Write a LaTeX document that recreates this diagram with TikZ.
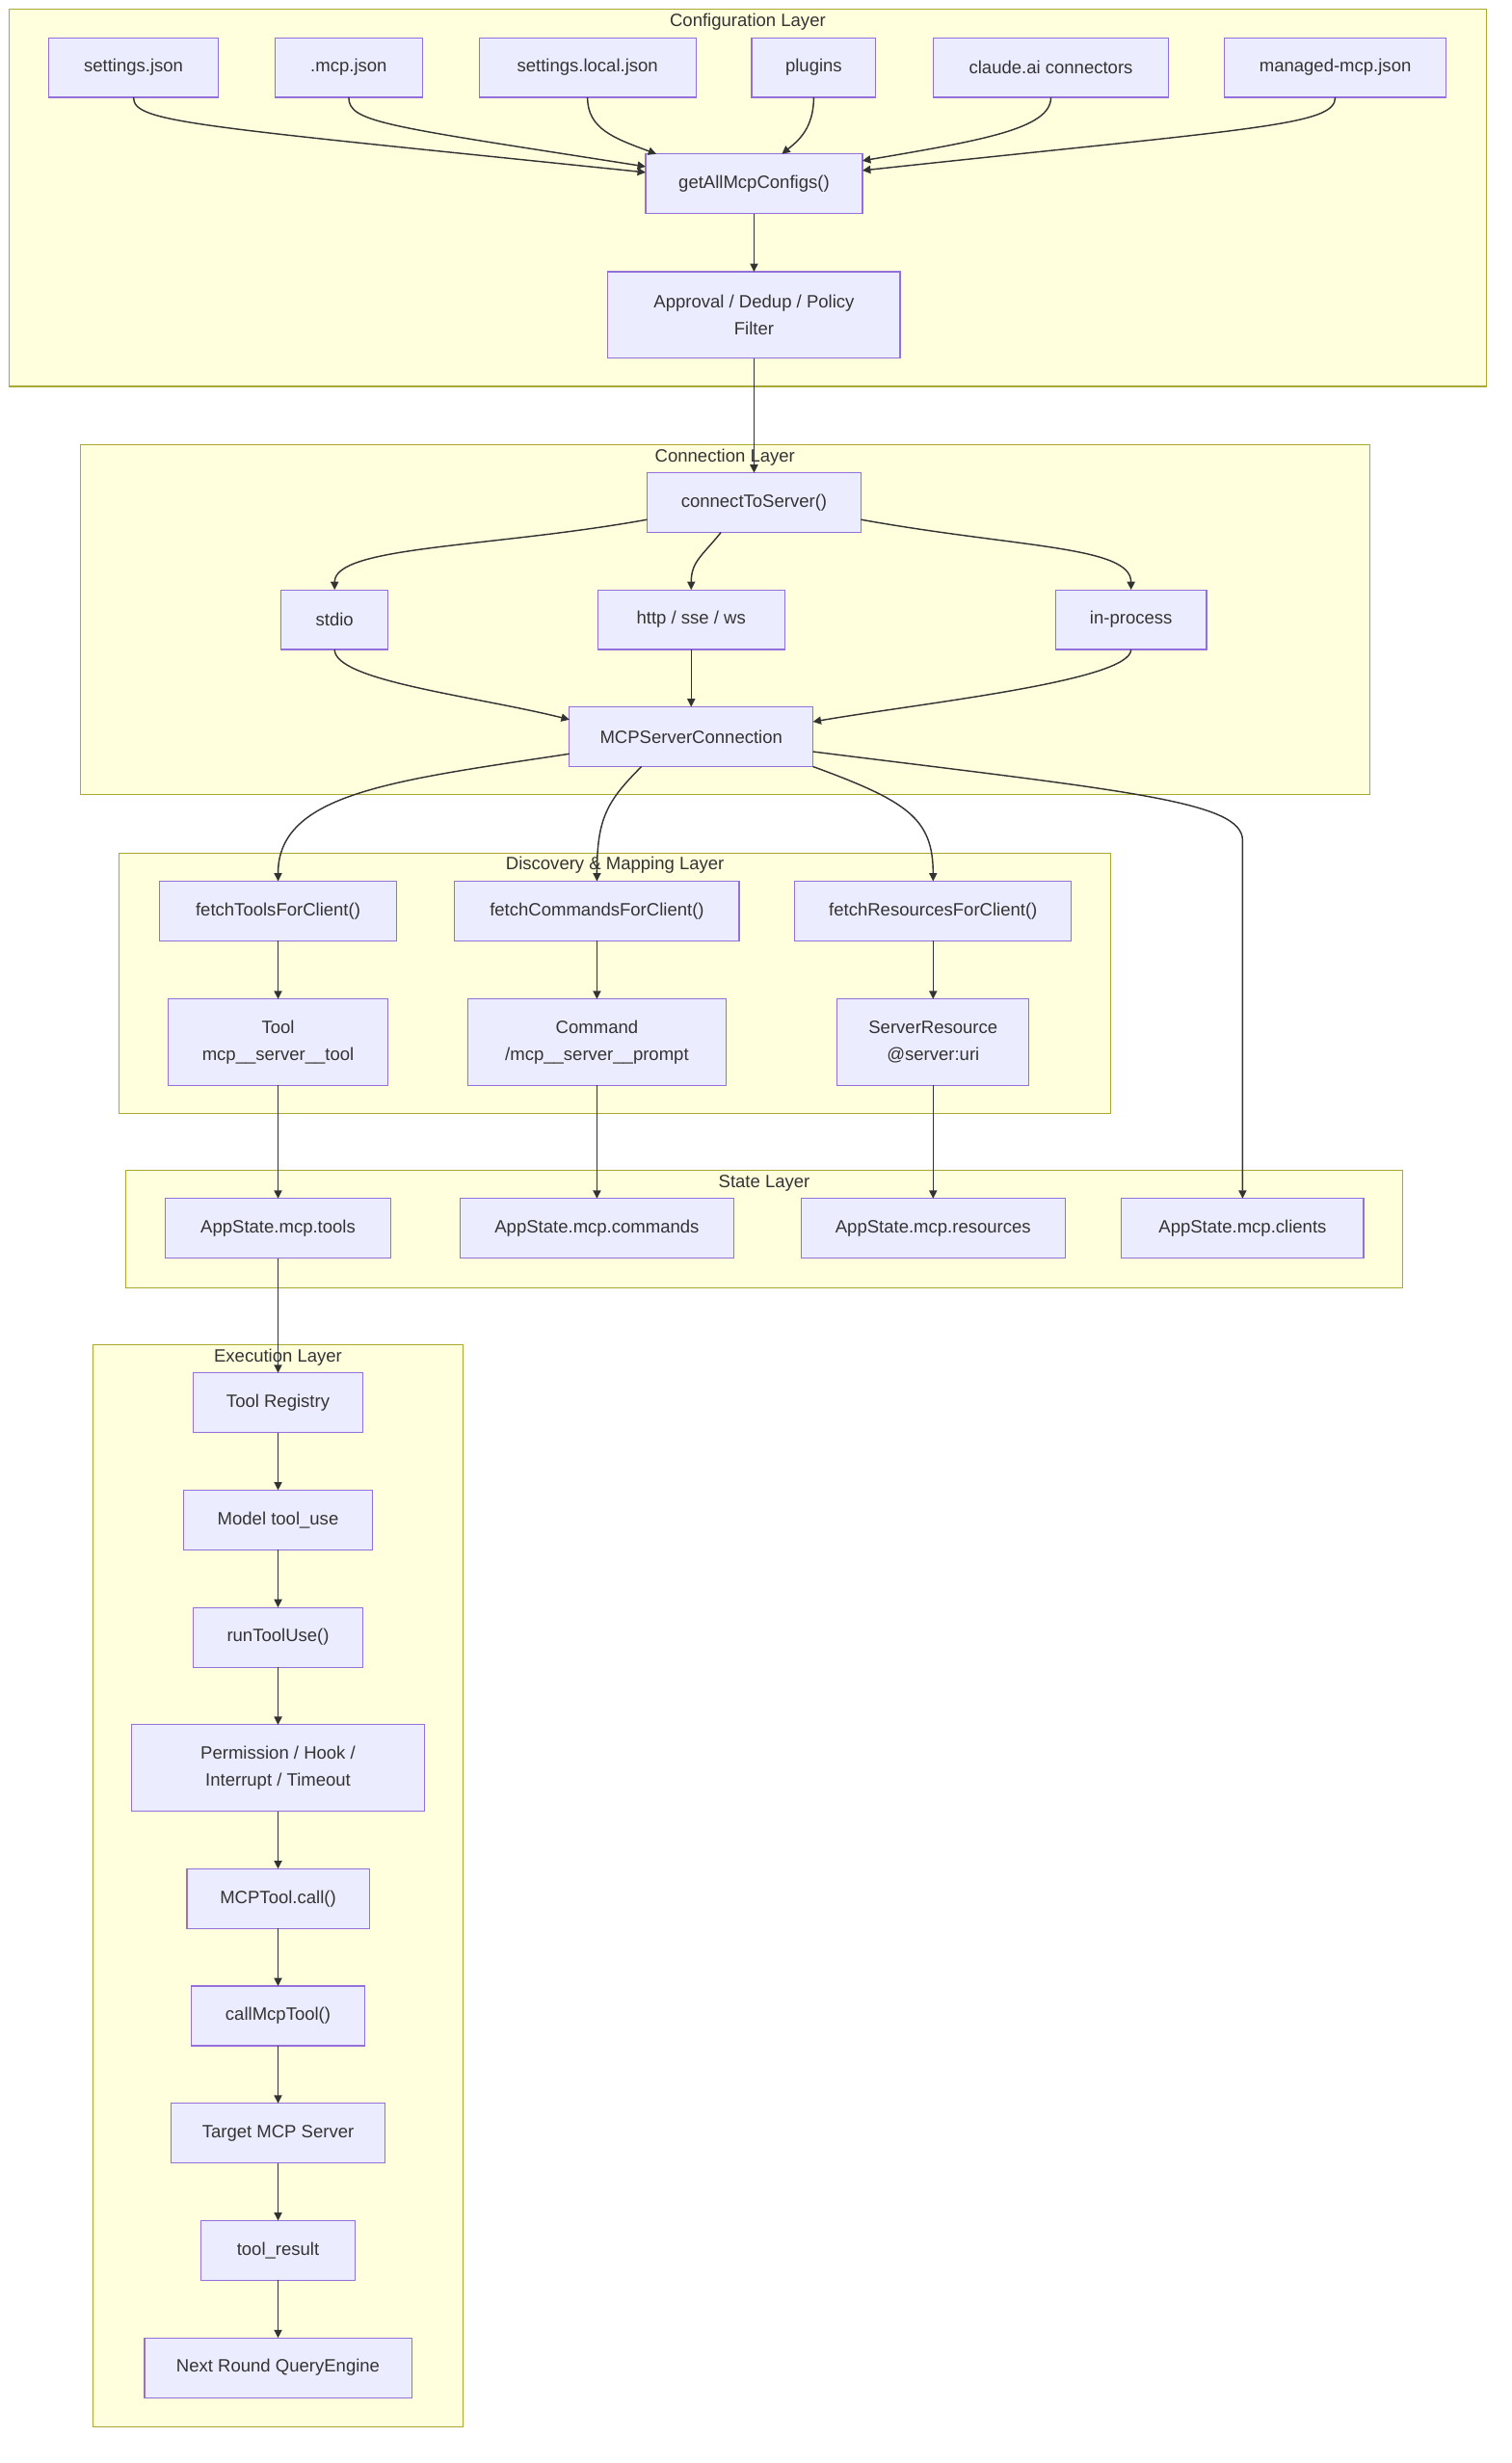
\documentclass[tikz,border=0pt]{standalone}
\usepackage{fontspec}
\setmainfont{Liberation Sans}
\usepackage{tikz}
\usetikzlibrary{positioning,arrows.meta}

\definecolor{nodefill}{HTML}{ECECFF}
\definecolor{nodeline}{HTML}{9370DB}
\definecolor{layerfill}{HTML}{FFFFDE}
\definecolor{layerline}{HTML}{AAAA33}
\definecolor{inkgray}{HTML}{333333}

\tikzset{
  flowbox/.style={rectangle, draw=nodeline, fill=nodefill, line width=0.6pt, minimum height=1.14cm, inner sep=2pt, align=center, text=inkgray, font=\fontsize{9.7}{14.5}\selectfont},
  tallbox/.style={flowbox, minimum height=1.65cm},
  layerbox/.style={draw=layerline, fill=layerfill, line width=0.6pt},
  layertitle/.style={text=inkgray, inner sep=0pt, font=\fontsize{9.7}{14.5}\selectfont},
  flow/.style={draw=inkgray, line width=0.75pt, -{Triangle[length=1.55mm,width=1.5mm]}},
}

\begin{document}
\begin{tikzpicture}[x=0.03cm, y=-0.03cm, node distance=1.1cm, outer sep=0pt]
    \useasboundingbox (0,0) rectangle (962,1568);

    % layers
    \draw[layerbox] (6,6) rectangle (946,246);
    \draw[layerbox] (51,283) rectangle (872,506);
    \draw[layerbox] (76,543) rectangle (707,709);
    \draw[layerbox] (80,745) rectangle (893,820);
    \draw[layerbox] (59,856) rectangle (295,1545);
    \node[layertitle] (cfgname) at (476,14) {Configuration Layer};
    \node[layertitle] (conname) at (461.5,291) {Connection Layer};
    \node[layertitle] (disname) at (391.5,551) {Discovery \& Mapping Layer};
    \node[layertitle] (stname) at (486.5,753) {State Layer};
    \node[layertitle] (exname) at (177,864) {Execution Layer};

    % configuration layer
    \node[flowbox, minimum width=3.24cm] (settings) at (85,43) {settings.json};
    \node[flowbox, minimum width=2.82cm] (mcpjson) at (222,43) {.mcp.json};
    \node[flowbox, minimum width=4.14cm] (local) at (374,43) {settings.local.json};
    \node[flowbox, minimum width=2.37cm] (plugins) at (518,43) {plugins};
    \node[flowbox, minimum width=4.50cm] (claude) at (669,43) {claude.ai connectors};
    \node[flowbox, minimum width=4.23cm] (managed) at (850,43) {managed-mcp.json};
    \node[flowbox, minimum width=4.14cm] (getall) at (480,117) {getAllMcpConfigs()};
    \node[tallbox, minimum width=5.58cm] (approval) at (480,200.5) {Approval / Dedup / Policy\\Filter};

    % connection layer
    \node[flowbox, minimum width=4.08cm] (connect) at (480,320) {connectToServer()};
    \node[flowbox, minimum width=2.04cm] (stdio) at (213,394.5) {stdio};
    \node[flowbox, minimum width=3.57cm] (http) at (440,394.5) {http / sse / ws};
    \node[flowbox, minimum width=2.88cm] (inproc) at (720,394.5) {in-process};
    \node[flowbox, minimum width=4.65cm] (mcpconn) at (440,469) {MCPServerConnection};

    % discovery & mapping layer
    \node[flowbox, minimum width=4.53cm] (ftools) at (177,580) {fetchToolsForClient()};
    \node[flowbox, minimum width=5.43cm] (fcmds) at (380,580) {fetchCommandsForClient()};
    \node[flowbox, minimum width=5.28cm] (fres) at (594,580) {fetchResourcesForClient()};
    \node[tallbox, minimum width=4.20cm] (tool) at (177,663.5) {Tool\\mcp\_\_server\_\_tool};
    \node[tallbox, minimum width=4.92cm] (command) at (380,663.5) {Command\\/mcp\_\_server\_\_prompt};
    \node[tallbox, minimum width=3.66cm] (resource) at (594,663.5) {ServerResource\\@server:uri};

    % state layer
    \node[flowbox, minimum width=4.32cm] (sttools) at (177,782) {AppState.mcp.tools};
    \node[flowbox, minimum width=5.22cm] (stcmds) at (380,782) {AppState.mcp.commands};
    \node[flowbox, minimum width=5.04cm] (stres) at (594,782) {AppState.mcp.resources};
    \node[flowbox, minimum width=4.62cm] (stclients) at (791,782) {AppState.mcp.clients};

    % execution layer
    \node[flowbox, minimum width=3.24cm] (registry) at (177,893) {Tool Registry};
    \node[flowbox, minimum width=3.60cm, below=of registry] (tooluse) {Model tool\_use};
    \node[flowbox, minimum width=3.24cm, below=of tooluse] (runtool) {runToolUse()};
    \node[tallbox, minimum width=5.58cm, below=of runtool] (guard) {Permission / Hook /\\Interrupt / Timeout};
    \node[flowbox, minimum width=3.48cm, below=of guard] (toolcall) {MCPTool.call()};
    \node[flowbox, minimum width=3.30cm, below=of toolcall] (callmcp) {callMcpTool()};
    \node[flowbox, minimum width=4.08cm, below=of callmcp] (target) {Target MCP Server};
    \node[flowbox, minimum width=2.94cm, below=of target] (result) {tool\_result};
    \node[flowbox, minimum width=5.10cm, below=of result] (nextround) {Next Round QueryEngine};

    % config sources into getAllMcpConfigs()
    \draw[flow] (settings.south) .. controls +(0,16) and +(-290,-30) .. (getall.174);
    \draw[flow] (mcpjson.south) .. controls +(0,16) and +(-166,-26) .. (getall.171);
    \draw[flow] (local.south) .. controls +(0,20) and +(-27,-10) .. (getall.163);
    \draw[flow] (plugins.south) .. controls +(0,20) and +(10,-8) .. (getall.47);
    \draw[flow] (claude.south) .. controls +(0,20) and +(76,-13) .. (getall.12);
    \draw[flow] (managed.south) .. controls +(0,18) and +(251,-27) .. (getall.7);

    % transports
    \draw[flow] (connect.189) .. controls +(-100,18) and +(0,-28) .. (stdio.north);
    \draw[flow] (connect.222) .. controls +(-12,15) and +(0,-18) .. (http.north);
    \draw[flow] (connect.351) .. controls +(100,18) and +(0,-28) .. (inproc.north);
    \draw[flow] (stdio.south) .. controls +(0,20) and +(-60,-15) .. (mcpconn.172);
    \draw[flow] (inproc.south) .. controls +(0,20) and +(70,-12) .. (mcpconn.7);

    % fan out of the connection
    \coordinate (clientbend) at (791,535);
    \draw[flow] (mcpconn.188) .. controls +(-112,17) and +(0,-56) .. (ftools.north);
    \draw[flow] (mcpconn.211) .. controls +(-22,22) and +(0,-40) .. (fcmds.north);
    \draw[flow] (mcpconn.south east) .. controls +(60,22) and +(0,-40) .. (fres.north);
    \draw[flow] (mcpconn.353) .. controls +(200,25) and +(0,-25) .. (clientbend) -- (stclients.north);

    % straight links
    \foreach \a/\b in {getall/approval, approval/connect, http/mcpconn,
        ftools/tool, fcmds/command, fres/resource,
        tool/sttools, command/stcmds, resource/stres, sttools/registry,
        registry/tooluse, tooluse/runtool, runtool/guard, guard/toolcall,
        toolcall/callmcp, callmcp/target, target/result, result/nextround}
      \draw[flow] (\a) -- (\b);
\end{tikzpicture}
\end{document}
